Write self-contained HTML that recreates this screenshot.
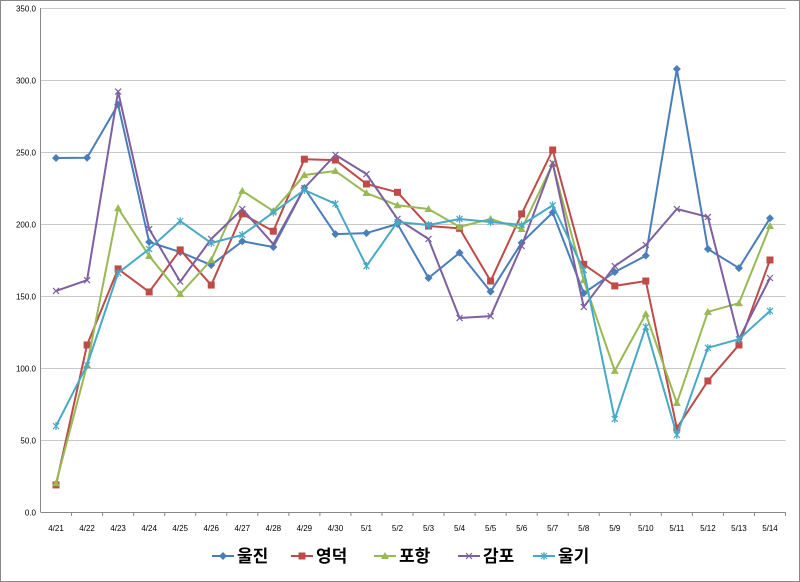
<!DOCTYPE html>
<html><head><meta charset="utf-8">
<style>
html,body{margin:0;padding:0;background:#fff;}
svg{display:block;font-family:"Liberation Sans","Noto Sans CJK KR",sans-serif;}
</style></head>
<body>
<svg id="c" width="800" height="582" xmlns="http://www.w3.org/2000/svg"></svg>
<script>
const svg=document.getElementById('c');
const NS='http://www.w3.org/2000/svg';
function el(t,a,txt){const e=document.createElementNS(NS,t);for(const k in a)e.setAttribute(k,a[k]);if(txt!==undefined)e.textContent=txt;svg.appendChild(e);return e;}
el('rect',{x:0.5,y:0.5,width:799,height:581,fill:'#fff',stroke:'#888'});
const L=40.5,R=785.5,T=8,B=512;
const yv=v=>B-v*(B-T)/350;
for(let v=0;v<=350;v+=50){
  const y=Math.round(yv(v))+0.5;
  el('line',{x1:L,x2:R,y1:y,y2:y,stroke:v==0?'#888':'#c8c8c8','stroke-width':1});
  el('text',{x:36,y:y+3,'font-size':8,'text-anchor':'end',fill:'#000'},v.toFixed(1));
}
el('line',{x1:L,x2:L,y1:T,y2:B,stroke:'#888'});
const labels=['4/21','4/22','4/23','4/24','4/25','4/26','4/27','4/28','4/29','4/30','5/1','5/2','5/3','5/4','5/5','5/6','5/7','5/8','5/9','5/10','5/11','5/12','5/13','5/14'];
const step=(R-L)/24;
const xv=i=>L+step*(i+0.5);
labels.forEach((s,i)=>{
  el('line',{x1:L+step*(i+1),x2:L+step*(i+1),y1:B,y2:B+4,stroke:'#888'});
  el('text',{x:xv(i),y:531,'font-size':8,'text-anchor':'middle'},s);
});
const series=[
 ['울진','#4a7ebb','d',[245.8,246,283,187.5,180.5,171.5,188,184,225,193,193.7,200,162.5,180,153,187,208,152,166.7,178,307.6,182.6,169.4,204]],
 ['영덕','#be4b48','s',[18.8,116,168.8,152.8,182,157.6,207,195,245,244.4,227.8,222,198.6,197,160.4,207,251.4,172,157,160.4,58.3,91,116,175]],
 ['포항','#98b954','t',[20,102,211,177.8,151.4,175,223,209,234,236.8,221.5,213,210.4,198,203.5,196.5,241.7,161,98,137.5,75.7,139,145,198.6]],
 ['감포','#7d60a0','x',[153.5,161,292,196.5,160,189.6,210.4,186,225,248,234.7,203.5,189.6,134.7,136,184.7,242.4,142.4,170.8,185.4,210.4,204.9,120,162.5]],
 ['울기','#46aac5','a',[59.7,102,166,182.6,202,186.8,192.4,208,223.6,214,170.8,201.4,199.3,203.5,201.4,199.3,213,168,64.6,128.5,53.5,114,120,139.6]]
];
function marker(t,x,y,c){
  if(t=='d')el('polygon',{points:`${x},${y-4} ${x+4},${y} ${x},${y+4} ${x-4},${y}`,fill:c});
  else if(t=='s')el('rect',{x:x-3.5,y:y-3.5,width:7,height:7,fill:c});
  else if(t=='t')el('polygon',{points:`${x},${y-4} ${x+4},${y+3} ${x-4},${y+3}`,fill:c});
  else if(t=='x'){el('path',{d:`M${x-3},${y-3}L${x+3},${y+3}M${x-3},${y+3}L${x+3},${y-3}`,stroke:c,'stroke-width':1.2});}
  else {el('path',{d:`M${x-3},${y-3}L${x+3},${y+3}M${x-3},${y+3}L${x+3},${y-3}M${x},${y-4}L${x},${y+4}`,stroke:c,'stroke-width':1.2});}
}
series.forEach(([n,c,t,d])=>{
  el('polyline',{points:d.map((v,i)=>xv(i)+','+yv(v)).join(' '),fill:'none',stroke:c,'stroke-width':2,'stroke-linejoin':'round'});
  d.forEach((v,i)=>marker(t,xv(i),yv(v),c));
});
const lx=[212,291,374,458,533];
series.forEach(([n,c,t],i)=>{
  const x=lx[i],y=556;
  el('line',{x1:x,x2:x+22,y1:y,y2:y,stroke:c,'stroke-width':2});
  marker(t,x+11,y,c);
  el('text',{x:x+25,y:y+6,'font-size':17,'font-weight':'bold'},n);
});
</script>
</body></html>
